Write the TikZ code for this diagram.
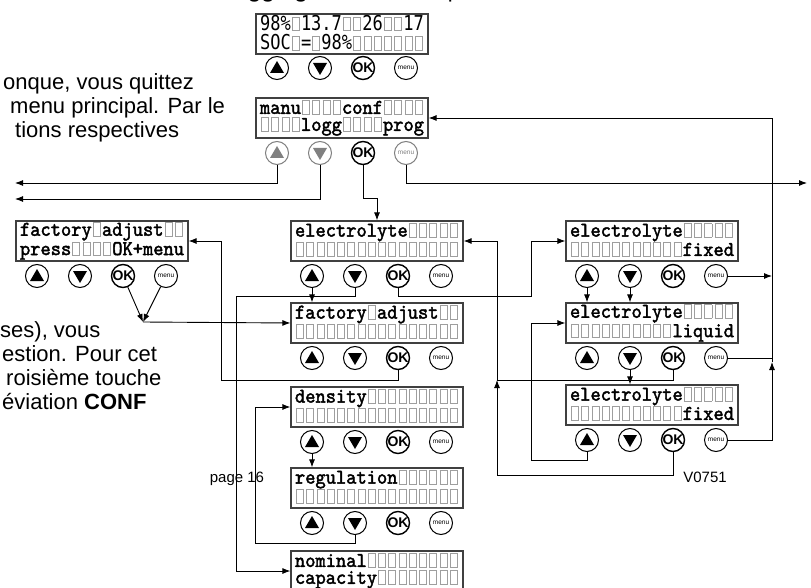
\documentclass[tikz,border=0pt]{standalone}
\usepackage{fontspec}
\setmainfont{Liberation Sans}
\newfontfamily\lcdfont{lmmono10-regular.otf}[FakeBold=2, FakeStretch=0.93]
\newfontfamily\socfont{DejaVu Sans Mono}[FakeStretch=0.83]
\usepackage{xcolor}
\usetikzlibrary{arrows.meta}
\definecolor{cellgray}{gray}{0.62}
\definecolor{keygray}{gray}{0.5}
% one empty LCD cell, and a run of them
\newcommand{\cell}{\makebox[10.25pt]{\textcolor{cellgray}{\fboxsep=0pt\fboxrule=1pt\fbox{\rule{0pt}{12.5pt}\hspace{6.2pt}}}}}
\newcommand{\cells}[1]{\foreach \i in {1,...,#1}{\cell}}
\newcommand{\lcdstrut}{\rule[-3pt]{0pt}{14pt}}
% the four keys under a display: [colour]{name}{x}{y}
\newcommand{\keyrow}[4][black]{%
  \node[key, draw=#1, up key=#1] (#2-up) at (#3-65,#4) {};
  \node[key, draw=#1, down key=#1] (#2-dn) at (#3-22,#4) {};
  \node[key, ok key] (#2-ok) at (#3+21,#4) {\makebox[0pt]{OK}};
  \node[key, draw=#1, text=#1, font=\fontsize{6.5}{7}\selectfont] (#2-mn) at (#3+64,#4) {menu};
}

\begin{document}
\begin{tikzpicture}[x=1pt, y=-1pt,
    lcd/.style={draw=black!75, line width=1.2pt, minimum width=172pt, minimum height=40pt,
      inner sep=0pt, align=left, font=\lcdfont\fontsize{21}{17}\selectfont},
    soc/.style={lcd, font=\socfont\fontsize{20.5}{17}\selectfont},
    key/.style={circle, draw, line width=1pt, minimum size=23pt, inner sep=0pt},
    up key/.style={path picture={\fill[#1] ([yshift=7pt]path picture bounding box.center) -- ++(7,12) -- ++(-14,0) -- cycle;}},
    up key/.default=black,
    down key/.style={path picture={\fill[#1] ([yshift=-7pt]path picture bounding box.center) -- ++(7,-12) -- ++(-14,0) -- cycle;}},
    down key/.default=black,
    ok key/.style={line width=1.4pt, font=\bfseries\fontsize{14}{14}\selectfont},
    para/.style={anchor=base west, inner sep=0pt, font=\fontsize{22}{26}\selectfont},
    small/.style={anchor=base, inner sep=0pt, font=\fontsize{15}{18}\selectfont},
    conn/.style={line width=0.9pt},
    arr/.style={conn, -{Latex[length=8pt, width=6pt]}}]
  \path[use as bounding box, fill=white] (0,0) rectangle (811,588);

  % text around the diagram (cut by the page edge)
  \node[para] (head) at (167,-2) {menu \textbf{logging} : menu, vous pouvez consulter les valeurs mémorisées};
  \node[para] (t1) at (3,90) {onque, vous quittez};
  \node[para] (t2) at (10,114) {menu principal. Par le};
  \node[para] (t3) at (15,138) {tions respectives};
  \node[para] (t4) at (0,337) {ses), vous};
  \node[para] (t5) at (2,361) {estion. Pour cet};
  \node[para] (t6) at (6,385) {roisième touche};
  \node[para] (t7) at (2,409) {éviation \textbf{CONF}};
  \node[small] (pg) at (237,482) {page 16};
  \node[small] (ver) at (705,482) {V0751};

  % displays
  \node[soc] (soc) at (342,34) {\lcdstrut 98\%\cell 13.7\cell\cell 26\cell\cell 17\\\lcdstrut SOC\cell=\cell 98\%\cells{7}};
  \node[lcd] (mm) at (342,118) {\lcdstrut manu\cells{4}conf\cells{4}\\\lcdstrut\cells{4}logg\cells{4}prog};
  \node[lcd] (fadjL) at (102,241) {\lcdstrut factory\cell adjust\cells{2}\\\lcdstrut press\cells{4}OK+menu};
  \node[lcd] (elec) at (377,241) {\lcdstrut electrolyte\cells{5}\\\lcdstrut\cells{16}};
  \node[lcd] (fadj) at (377,323) {\lcdstrut factory\cell adjust\cells{2}\\\lcdstrut\cells{16}};
  \node[lcd] (dens) at (377,407) {\lcdstrut density\cells{9}\\\lcdstrut\cells{16}};
  \node[lcd] (regu) at (377,488) {\lcdstrut regulation\cells{6}\\\lcdstrut\cells{16}};
  \node[lcd] (nomc) at (377,571) {\lcdstrut nominal\cells{9}\\\lcdstrut capacity\cells{8}};
  \node[lcd] (efix1) at (652,241) {\lcdstrut electrolyte\cells{5}\\\lcdstrut\cells{11}fixed};
  \node[lcd] (eliq) at (652,323) {\lcdstrut electrolyte\cells{5}\\\lcdstrut\cells{10}liquid};
  \node[lcd] (efix2) at (652,405) {\lcdstrut electrolyte\cells{5}\\\lcdstrut\cells{11}fixed};

  % keys
  \keyrow{soc}{342}{68}
  \keyrow[keygray]{mm}{342}{153}
  \keyrow{fadjL}{102}{276}
  \keyrow{elec}{377}{276}
  \keyrow{fadj}{377}{358}
  \keyrow{dens}{377}{442}
  \keyrow{regu}{377}{523}
  \keyrow{efix1}{652}{276}
  \keyrow{eliq}{652}{358}
  \keyrow{efix2}{652}{440}

  % free ends and meeting points
  \coordinate (outLa) at (15,183);
  \coordinate (outLb) at (15,199);
  \coordinate (outR) at (807,183);
  \coordinate (hubR) at (772,362);
  \coordinate (hubM) at (497,380);
  \coordinate (join) at (143,322);

  % main menu
  \draw[arr] (mm-up.south) |- (outLa);
  \draw[arr] (mm-dn.south) |- (outLb);
  \draw[arr] (mm-ok.south) -- ++(0,33) -| (elec.north);
  \draw[arr] (mm-mn.south) |- (outR);
  % back to the main menu
  \draw[arr] (efix1-mn.east) -- (efix1-mn.east -| hubR);
  \draw[conn] (eliq-mn.east) -- (eliq-mn.east -| hubR);
  \draw[arr] (efix2-mn.east) -| (hubR);
  \draw[arr] (hubR) |- (mm.east);
  % middle column
  \draw[arr] (elec-up.south) -- (elec-up.south |- fadj.north);
  \draw[arr] (elec-dn.south) -- ++(0,8) -| ([xshift=-54pt]nomc.west) -- (nomc.west);
  \draw[arr] (elec-ok.south) -- ++(0,8) -| ([xshift=-34pt]efix1.west) -- (efix1.west);
  \draw[arr] (fadj-ok.south) -- ++(0,10) -| ([xshift=33pt]fadjL.east) -- (fadjL.east);
  \draw[arr] (dens-up.south) -- (dens-up.south |- regu.north);
  \draw[arr] (regu-dn.south) -- ++(0,8) -| ([xshift=-35pt]dens.west) -- (dens.west);
  % left display
  \draw[arr] (fadjL-ok) -- (join);
  \draw[arr] (fadjL-mn) -- (join);
  \draw[arr] (join) -- (fadj.west);
  % right column
  \draw[arr] (efix1-up.south) -- (efix1-up.south |- eliq.north);
  \draw[arr] (efix1-dn.south) -- (efix1-dn.south |- eliq.north);
  \draw[arr] (eliq-dn.south) -- (eliq-dn.south |- efix2.north);
  \draw[arr] (efix2-up.south) -- ++(0,8) -| ([xshift=-34pt]eliq.west) -- (eliq.west);
  \draw[arr] (efix2-ok.south) -- ++(0,23) -| (hubM);
  \draw[conn] (eliq-ok.south) |- (hubM);
  \draw[arr] (hubM) |- (elec.east);
\end{tikzpicture}
\end{document}
